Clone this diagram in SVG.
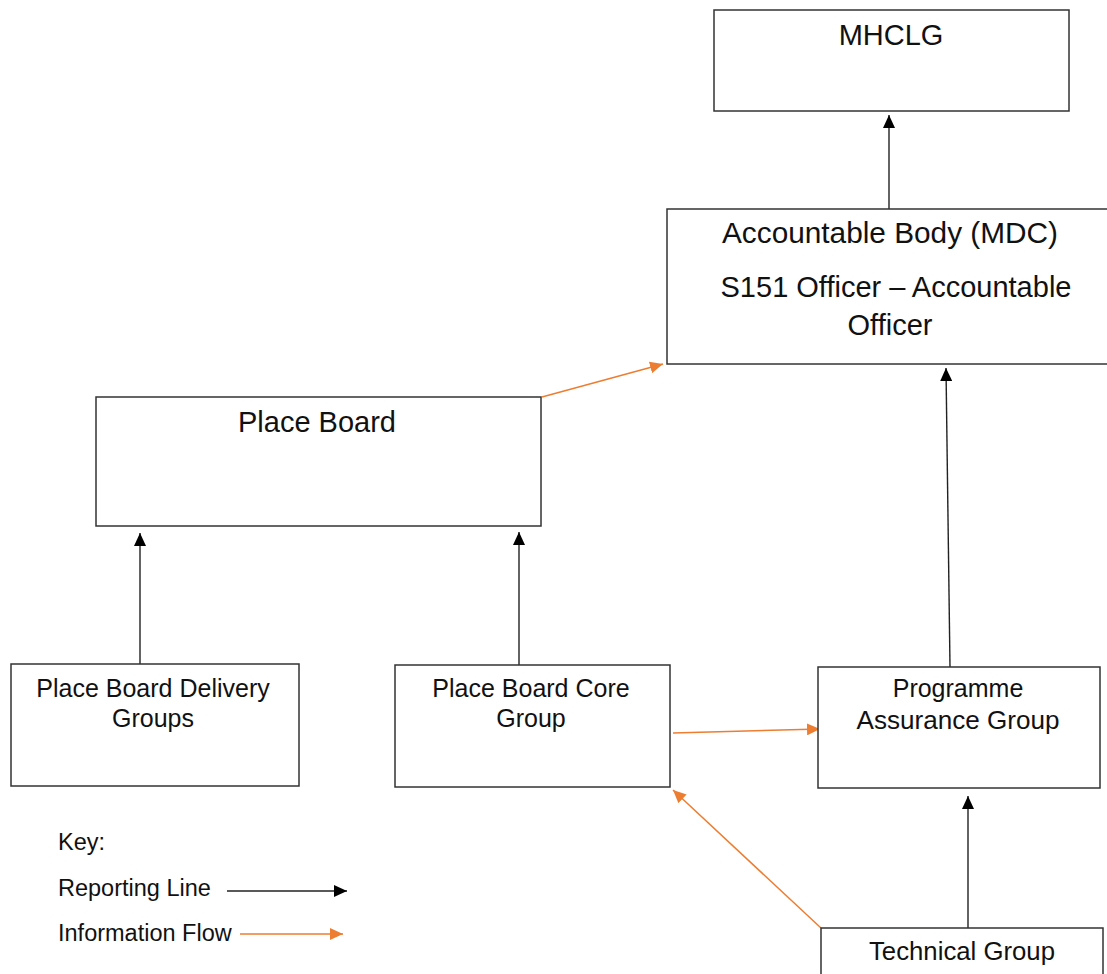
<svg xmlns="http://www.w3.org/2000/svg" width="1107" height="974" viewBox="0 0 1107 974">
<style>
.box{fill:#fff;stroke:#333;stroke-width:1.5}
.t{font-family:"Liberation Sans",Arial,sans-serif;fill:#111;text-anchor:middle}
.big{font-size:29px}
.mid{font-size:25px}
.key{font-size:23.5px;text-anchor:start}
.rep{stroke:#222;stroke-width:1.4;fill:none;marker-end:url(#ab)}
.inf{stroke:#ED7D31;stroke-width:1.5;fill:none;marker-end:url(#ao)}
</style>
<defs>
<marker id="ab" markerUnits="userSpaceOnUse" markerWidth="14" markerHeight="12" refX="13" refY="6" orient="auto"><path d="M0,0 L13,6 L0,12 Z" fill="#000"/></marker>
<marker id="ao" markerUnits="userSpaceOnUse" markerWidth="14" markerHeight="12" refX="13" refY="6" orient="auto"><path d="M0,0 L13,6 L0,12 Z" fill="#ED7D31"/></marker>
</defs>
<rect width="1107" height="974" fill="#fff"/>
<g id="connectors">
<line class="rep" x1="889" y1="209" x2="889" y2="115"/>
<line class="inf" x1="542" y1="397" x2="663" y2="364"/>
<line class="rep" x1="140" y1="664" x2="140" y2="533"/>
<line class="rep" x1="519" y1="665" x2="519" y2="532"/>
<line class="rep" x1="950" y1="667" x2="946" y2="368"/>
<line class="inf" x1="673" y1="733" x2="820" y2="729"/>
<line class="inf" x1="821" y1="928" x2="673" y2="790"/>
<line class="rep" x1="968" y1="928" x2="968" y2="796"/>
</g>
<g id="mhclg">
<rect class="box" x="714" y="10" width="355" height="101"/>
<text class="t big" x="891" y="45">MHCLG</text>
</g>
<g id="accountable">
<rect class="box" x="667" y="209" width="446" height="155"/>
<text class="t big" x="890" y="243" textLength="336" lengthAdjust="spacingAndGlyphs">Accountable Body (MDC)</text>
<text class="t big" x="896" y="297">S151 Officer – Accountable</text>
<text class="t big" x="890" y="335">Officer</text>
</g>
<g id="placeboard">
<rect class="box" x="96" y="397" width="445" height="129"/>
<text class="t big" x="317" y="432">Place Board</text>
</g>
<g id="delivery">
<rect class="box" x="11" y="664" width="288" height="122"/>
<text class="t mid" x="153" y="697">Place Board Delivery</text>
<text class="t mid" x="153" y="727">Groups</text>
</g>
<g id="core">
<rect class="box" x="395" y="665" width="275" height="122"/>
<text class="t mid" x="531" y="697">Place Board Core</text>
<text class="t mid" x="531" y="727">Group</text>
</g>
<g id="programme">
<rect class="box" x="818" y="667" width="282" height="121"/>
<text class="t mid" x="958" y="697">Programme</text>
<text class="t mid" x="958" y="729" textLength="203" lengthAdjust="spacingAndGlyphs">Assurance Group</text>
</g>
<g id="technical">
<rect class="box" x="821" y="928" width="282" height="60"/>
<text class="t mid" x="962" y="960" textLength="186" lengthAdjust="spacingAndGlyphs">Technical Group</text>
</g>
<g id="key">
<text class="t key" x="58" y="850">Key:</text>
<text class="t key" x="58" y="896">Reporting Line</text>
<text class="t key" x="58" y="941">Information Flow</text>
<line class="rep" x1="227" y1="891" x2="347" y2="891"/>
<line class="inf" x1="240" y1="934" x2="343" y2="934"/>
</g>
</svg>
